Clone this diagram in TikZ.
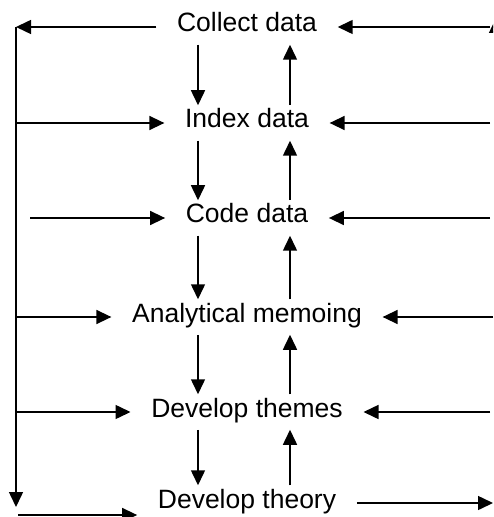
\documentclass[tikz,border=0pt]{standalone}
\usepackage{fontspec}
\setmainfont{Liberation Sans}
\usetikzlibrary{arrows.meta}

\begin{document}
\begin{tikzpicture}[->,>={Triangle[length=7.5pt,width=7pt]},line width=0.75pt,
		x=0.5pt,y=-0.5pt,
		stage/.style={inner xsep=10pt,inner ysep=2pt,text height=9pt,text depth=4pt,
			font=\fontsize{13.25}{16}\selectfont}]

		\useasboundingbox (0,0) rectangle (493,517);
		\clip (0,0) rectangle (493,517);

		\node[stage] (collect) at (247,27) {Collect data};
		\node[stage, node distance=48pt] (index) [below of=collect] {Index data};
		\node[stage, node distance=47.5pt] (code) [below of=index] {Code data};
		\node[stage, node distance=49.5pt] (memo) [below of=code] {Analytical memoing};
		\node[stage, node distance=47.5pt] (themes) [below of=memo] {Develop themes};
		\node[stage, node distance=45.5pt] (theory) [below of=themes] {Develop theory};

		\coordinate (side top) at (16,27);
		\coordinate (side end) at (16,507);
		\coordinate (code tail) at (30,0);
		\coordinate (foot) at (18,515);
		\coordinate (rim) at (490,0);
		\coordinate (edge) at (493,0);
		\coordinate (far top) at (496,18);
		\coordinate (far end) at (496,507);

		% down the middle
		\path ([xshift=-24.5pt]collect.south) edge ([xshift=-24.5pt]index.north)
		([xshift=-24.5pt]index.south) edge ([xshift=-24.5pt]code.north)
		([xshift=-24.5pt]code.south) edge ([xshift=-24.5pt]memo.north)
		([xshift=-24.5pt]memo.south) edge ([xshift=-24.5pt]themes.north)
		([xshift=-24.5pt]themes.south) edge ([xshift=-24.5pt]theory.north);
		% back up
		\path ([xshift=21.5pt]index.north) edge ([xshift=21.5pt]collect.south)
		([xshift=21.5pt]code.north) edge ([xshift=21.5pt]index.south)
		([xshift=21.5pt]memo.north) edge ([xshift=21.5pt]code.south)
		([xshift=21.5pt]themes.north) edge ([xshift=21.5pt]memo.south)
		([xshift=21.5pt]theory.north) edge ([xshift=21.5pt]themes.south);

		% left side
		\draw (collect.west) -- (side top);
		\draw (side top) -- (side end);
		\path (side top |- index.west) edge (index.west)
		(code tail |- code.west) edge (code.west)
		(side top |- memo.west) edge (memo.west)
		(side top |- themes.west) edge (themes.west)
		(foot) edge (foot -| theory.west);

		% right side
		\path (rim |- collect.east) edge (collect.east)
		(rim |- index.east) edge (index.east)
		(rim |- code.east) edge (code.east)
		(edge |- memo.east) edge (memo.east)
		(rim |- themes.east) edge (themes.east)
		(theory.east) edge (edge |- theory.east);
		\draw (far end) -- (far top);
	\end{tikzpicture}
\end{document}
